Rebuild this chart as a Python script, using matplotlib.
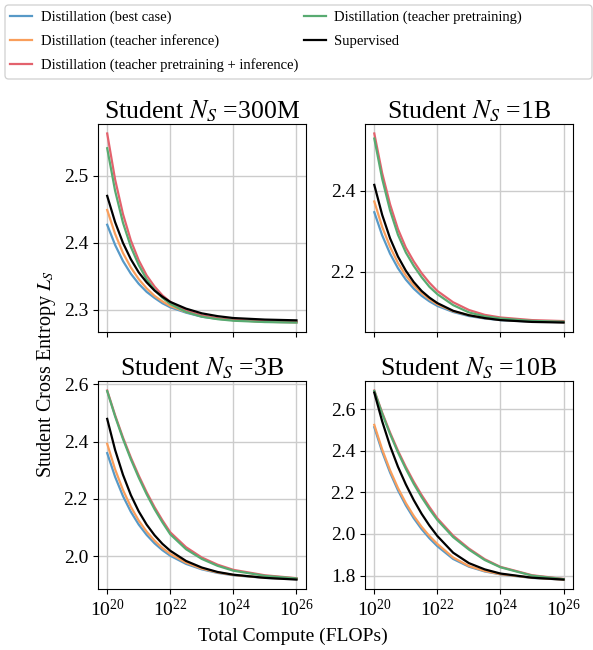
import numpy as np
import matplotlib
matplotlib.use("Agg")
import matplotlib.pyplot as plt
from matplotlib.patches import FancyBboxPatch
from matplotlib.ticker import FixedLocator, NullLocator, LogFormatterMathtext

plt.rcParams['font.family'] = ['Liberation Serif', 'DejaVu Serif']
plt.rcParams['mathtext.fontset'] = 'stix'

# log10 of total compute (FLOPs)
log_compute = [20, 20.25, 20.5, 20.75, 21, 21.25, 21.5, 21.75, 22, 22.5, 23, 23.5, 24, 25, 26]

series_labels = [
    "Distillation (best case)",
    "Distillation (teacher inference)",
    "Distillation (teacher pretraining + inference)",
    "Distillation (teacher pretraining)",
    "Supervised",
]
series_colors = ["#5799c7", "#f99e5b", "#e3626d", "#58ab71", "black"]

panel_titles = [r"Student $N_S$ =300M", r"Student $N_S$ =1B",
                r"Student $N_S$ =3B", r"Student $N_S$ =10B"]

# ---- Student 300M ----
s300_best = [2.427, 2.397, 2.373, 2.354, 2.339, 2.327, 2.318, 2.310, 2.304, 2.296, 2.290, 2.2868, 2.285, 2.2825, 2.2816]
s300_inf = [2.449, 2.4135, 2.385, 2.3633, 2.346, 2.3322, 2.321, 2.3128, 2.306, 2.297, 2.291, 2.287, 2.285, 2.2824, 2.2816]
s300_preinf = [2.563, 2.4946, 2.443, 2.4036, 2.374, 2.3516, 2.335, 2.3218, 2.312, 2.299, 2.292, 2.2876, 2.285, 2.283, 2.2824]
s300_pre = [2.541, 2.4778, 2.430, 2.394, 2.367, 2.3457, 2.330, 2.3182, 2.309, 2.297, 2.290, 2.2863, 2.284, 2.282, 2.2813]
s300_sup = [2.470, 2.431, 2.400, 2.3756, 2.356, 2.3412, 2.329, 2.3197, 2.312, 2.302, 2.295, 2.2908, 2.288, 2.2857, 2.2846]

# ---- Student 1B ----
s1b_best = [2.3475, 2.2903, 2.245, 2.2092, 2.181, 2.1587, 2.141, 2.1272, 2.116, 2.101, 2.091, 2.085, 2.081, 2.0774, 2.076]
s1b_inf = [2.374, 2.3112, 2.262, 2.2223, 2.191, 2.1669, 2.148, 2.1323, 2.120, 2.103, 2.093, 2.086, 2.082, 2.0777, 2.076]
s1b_preinf = [2.542, 2.4439, 2.367, 2.3058, 2.260, 2.226, 2.197, 2.173, 2.153, 2.125, 2.106, 2.094, 2.0875, 2.081, 2.0786]
s1b_pre = [2.5295, 2.430, 2.352, 2.2918, 2.248, 2.215, 2.187, 2.163, 2.145, 2.118, 2.100, 2.0902, 2.085, 2.079, 2.077]
s1b_sup = [2.415, 2.341, 2.283, 2.238, 2.203, 2.175, 2.153, 2.1364, 2.123, 2.104, 2.093, 2.086, 2.081, 2.0765, 2.075]

# ---- Student 3B ----
s3b_best = [2.3595, 2.277, 2.2095, 2.1547, 2.110, 2.074, 2.0446, 2.0207, 2.0013, 1.9727, 1.9537, 1.9413, 1.933, 1.924, 1.920]
s3b_inf = [2.392, 2.303, 2.231, 2.172, 2.124, 2.0855, 2.054, 2.0283, 2.0075, 1.977, 1.956, 1.943, 1.934, 1.9245, 1.920]
s3b_preinf = [2.578, 2.492, 2.414, 2.344, 2.281, 2.223, 2.171, 2.125, 2.083, 2.031, 1.995, 1.970, 1.952, 1.933, 1.923]
s3b_pre = [2.576, 2.488, 2.409, 2.338, 2.274, 2.216, 2.164, 2.118, 2.076, 2.024, 1.990, 1.966, 1.949, 1.931, 1.922]
s3b_sup = [2.479, 2.371, 2.284, 2.213, 2.156, 2.110, 2.073, 2.0428, 2.0185, 1.983, 1.960, 1.9445, 1.935, 1.924, 1.918]

# ---- Student 10B ----
s10b_best = [2.513, 2.395, 2.295, 2.210, 2.1375, 2.0759, 2.0235, 1.979, 1.9412, 1.880, 1.843, 1.820, 1.806, 1.789, 1.781]
s10b_inf = [2.524, 2.406, 2.306, 2.221, 2.1485, 2.087, 2.0345, 1.990, 1.952, 1.887, 1.846, 1.822, 1.807, 1.790, 1.781]
s10b_preinf = [2.689, 2.583, 2.487, 2.400, 2.322, 2.251, 2.187, 2.129, 2.075, 1.992, 1.930, 1.879, 1.842, 1.802, 1.784]
s10b_pre = [2.687, 2.578, 2.480, 2.392, 2.313, 2.241, 2.177, 2.119, 2.067, 1.985, 1.925, 1.875, 1.840, 1.800, 1.783]
s10b_sup = [2.679, 2.541, 2.423, 2.323, 2.238, 2.163, 2.097, 2.040, 1.990, 1.910, 1.860, 1.830, 1.810, 1.790, 1.781]

panels = [
    [s300_best, s300_inf, s300_preinf, s300_pre, s300_sup],
    [s1b_best, s1b_inf, s1b_preinf, s1b_pre, s1b_sup],
    [s3b_best, s3b_inf, s3b_preinf, s3b_pre, s3b_sup],
    [s10b_best, s10b_inf, s10b_preinf, s10b_pre, s10b_sup],
]
ytick_sets = [[2.3, 2.4, 2.5], [2.2, 2.4], [2.0, 2.2, 2.4, 2.6], [1.8, 2.0, 2.2, 2.4, 2.6]]
xticks = [1e20, 1e22, 1e24, 1e26]

W, H = 593, 650
fig, axes = plt.subplots(2, 2, figsize=(W / 100, H / 100), dpi=100, sharex=True)
fig.subplots_adjust(left=0.1648, right=0.9663, bottom=0.0938, top=0.8092,
                    wspace=0.283, hspace=0.236)

compute = [10 ** v for v in log_compute]
handles = []
for i, ax in enumerate(axes.flat):
    hs = []
    for vals, lab, col in zip(panels[i], series_labels, series_colors):
        h, = ax.plot(compute, vals, color=col, lw=1.6, label=lab)
        hs.append(h)
    if i == 0:
        handles = hs
    ax.set_xscale('log')
    ax.xaxis.set_major_locator(FixedLocator(xticks))
    ax.xaxis.set_minor_locator(NullLocator())
    ax.xaxis.set_major_formatter(LogFormatterMathtext())
    ax.yaxis.set_major_locator(FixedLocator(ytick_sets[i]))
    ax.grid(True, color='#cccccc', lw=1.0)
    ax.set_axisbelow(True)
    ax.tick_params(labelsize=14)
    ax.set_title(panel_titles[i], fontsize=18.5, pad=4)

fig.text(0.078, 0.424, r"Student Cross Entropy $L_S$", rotation=90,
         ha='center', va='center', fontsize=14.5)
fig.text(0.494, 0.021, "Total Compute (FLOPs)", ha='center', va='center', fontsize=14)

# legend frame spanning the full width
frame = FancyBboxPatch((5 / W, 1 - 79 / H), 587 / W, 74 / H,
                       boxstyle="round,pad=0,rounding_size=0.006",
                       transform=fig.transFigure, facecolor='white',
                       edgecolor='#d0d0d0', lw=0.9, zorder=0)
fig.patches.append(frame)

fig.legend(handles, series_labels,
           loc='upper left', bbox_to_anchor=(10 / W, 1 - 11 / H), ncol=2,
           fontsize=10.5, handlelength=1.5, handletextpad=0.6,
           columnspacing=0.4, frameon=False, borderpad=0, borderaxespad=0,
           labelspacing=0.68)

fig.savefig("out.png", dpi=100)
